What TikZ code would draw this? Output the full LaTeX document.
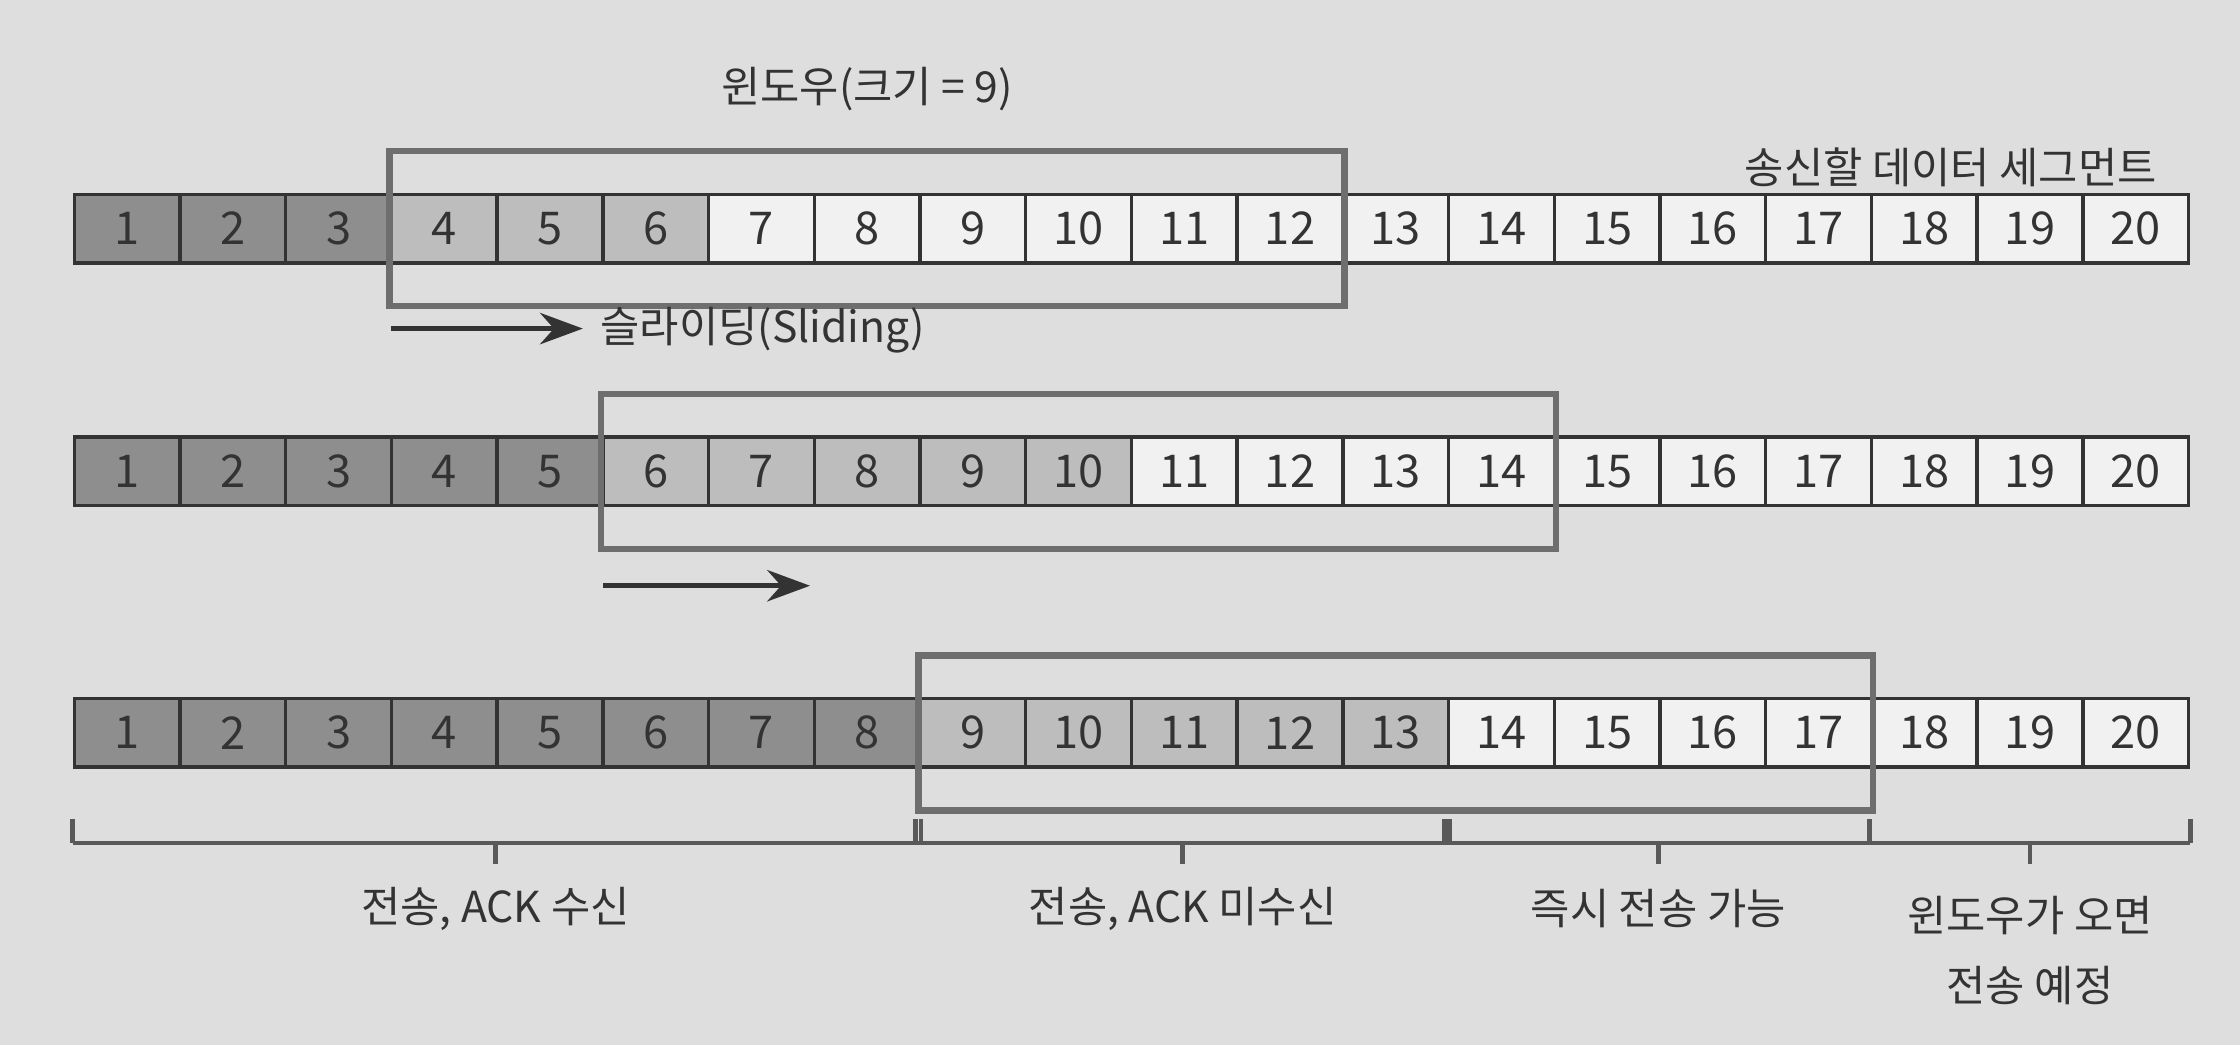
\documentclass[tikz,border=0pt]{standalone}
\usepackage{fontspec}
\setmainfont{Noto Sans CJK KR}
\usetikzlibrary{arrows.meta,fit,calc}
\definecolor{bgc}{HTML}{DEDEDE}
\definecolor{cdark}{HTML}{8E8E8E}
\definecolor{cmid}{HTML}{BDBDBD}
\definecolor{cwhite}{HTML}{F1F1F1}
\definecolor{winc}{HTML}{6E6E6E}
\definecolor{inkc}{HTML}{333333}
\begin{document}
\begin{tikzpicture}[x=0.1mm,y=-0.1mm,
  cell/.style={draw=inkc, line width=0.7pt, minimum width=7.4mm, minimum height=4.8mm,
    inner sep=0pt, font=\fontsize{9}{10}\selectfont, text=inkc},
  done/.style={cell, fill=cdark},
  pend/.style={cell, fill=cmid},
  free/.style={cell, fill=cwhite},
  win/.style={draw=winc, line width=1.3pt, inner xsep=0pt, inner ysep=2.9mm},
  lbl/.style={font=\fontsize{8.5}{14}\selectfont, text=inkc},
  slide/.style={-{Stealth[length=3mm,width=2.2mm]}, line width=0.9pt, draw=inkc},
  brk/.style={line width=0.9pt, draw=black!65}]
\fill[bgc] (0,0) rectangle (1568,731.5);
\useasboundingbox (0,0) rectangle (1568,731.5);

% row 1
\foreach \i in {1,...,3}  \node[done] (a\i) at ({52+(\i-0.5)*74},160) {\i};
\foreach \i in {4,...,6}  \node[pend] (a\i) at ({52+(\i-0.5)*74},160) {\i};
\foreach \i in {7,...,20} \node[free] (a\i) at ({52+(\i-0.5)*74},160) {\i};
\node[win, fit=(a4)(a12)] (wa) {};
\node[lbl] (title) at (607,62) {윈도우(크기 = 9)};
\node[lbl, anchor=east] (seg) at (1522,117) {송신할 데이터 세그먼트};

% slide 1
\coordinate (s1) at (274,230);
\node[lbl, anchor=west] (slbl) at (408,231) {슬라이딩(Sliding)};
\draw[slide] (s1) -- (s1 -| slbl.west);

% row 2
\foreach \i in {1,...,5}  \node[done] (b\i) at ({52+(\i-0.5)*74},330) {\i};
\foreach \i in {6,...,10} \node[pend] (b\i) at ({52+(\i-0.5)*74},330) {\i};
\foreach \i in {11,...,20} \node[free] (b\i) at ({52+(\i-0.5)*74},330) {\i};
\node[win, fit=(b6)(b14)] (wb) {};

% slide 2
\coordinate (s2) at (422,410);
\coordinate (e2) at (567,410);
\draw[slide] (s2) -- (e2);

% row 3
\foreach \i in {1,...,8}  \node[done] (c\i) at ({52+(\i-0.5)*74},513) {\i};
\foreach \i in {9,...,13} \node[pend] (c\i) at ({52+(\i-0.5)*74},513) {\i};
\foreach \i in {14,...,20} \node[free] (c\i) at ({52+(\i-0.5)*74},513) {\i};
\node[win, fit=(c9)(c17)] (wc) {};

% brackets
\coordinate (k0) at (c1.west |- 0,590);
\coordinate (k1) at (c9.west |- 0,590);
\coordinate (k2) at (c14.west |- 0,590);
\coordinate (k3) at (c18.west |- 0,590);
\coordinate (k4) at (c20.east |- 0,590);
\draw[brk] (k0) -- (k4);
\draw[brk] (k0) -- ++(0,-17);
\draw[brk] ([xshift=-0.18mm]k1) -- ++(0,-17);
\draw[brk] ([xshift=0.18mm]k1) -- ++(0,-17);
\draw[brk] ([xshift=-0.18mm]k2) -- ++(0,-17);
\draw[brk] ([xshift=0.18mm]k2) -- ++(0,-17);
\draw[brk] (k3) -- ++(0,-17);
\draw[brk] (k4) -- ++(0,-17);
\coordinate (m1) at ($(k0)!0.5!(k1)$);
\coordinate (m2) at ($(k1)!0.5!(k2)$);
\coordinate (m3) at ($(k2)!0.5!(k3)$);
\coordinate (m4) at ($(k3)!0.5!(k4)$);
\foreach \m in {m1,m2,m3,m4} \draw[brk] (\m) -- ++(0,15);

\node[lbl] (l1) at (m1 |- 0,636) {전송, ACK 수신};
\node[lbl] (l2) at (m2 |- 0,636) {전송, ACK 미수신};
\node[lbl] (l3) at (m3 |- 0,636) {즉시 전송 가능};
\node[lbl, align=center, anchor=north] (l4) at (m4 |- 0,615) {윈도우가 오면\\전송 예정};
\end{tikzpicture}
\end{document}
